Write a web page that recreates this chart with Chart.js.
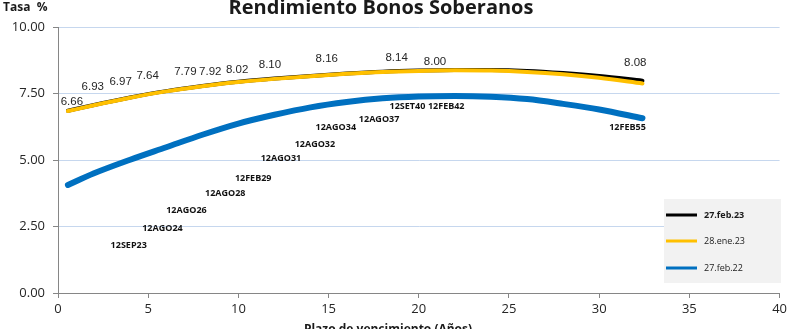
<!DOCTYPE html>
<html>
<head>
<meta charset="utf-8">
<script src="https://cdn.jsdelivr.net/npm/chart.js@4.4.1/dist/chart.umd.min.js"></script>
<style>
  html, body { margin: 0; padding: 0; background: #fff; }
  #wrap { width: 790px; height: 329px; }
</style>
</head>
<body>
<div id="wrap"><canvas id="curva"></canvas></div>
<script>
// -----------------------------
// DATA
// -----------------------------
const plazos = [0.55, 2, 4, 6, 8, 10, 12, 14, 16, 18, 20, 22, 24, 26, 28, 30, 32.4];
const tasaFeb23 = [6.85, 7.07, 7.35, 7.59, 7.78, 7.94, 8.06, 8.16, 8.25, 8.32, 8.36, 8.38, 8.38, 8.35, 8.27, 8.16, 7.98];
const tasaEne23 = [6.84, 7.06, 7.34, 7.58, 7.77, 7.93, 8.05, 8.15, 8.24, 8.31, 8.35, 8.37, 8.36, 8.31, 8.22, 8.09, 7.88];
const tasaFeb22 = [4.06, 4.50, 5.01, 5.48, 5.95, 6.37, 6.70, 6.98, 7.18, 7.32, 7.39, 7.41, 7.38, 7.29, 7.11, 6.90, 6.57];

const seriesNames = ['27.feb.23', '28.ene.23', '27.feb.22'];

// yield labels shown above the curves
const tasaLabels = ['6.66', '6.93', '6.97', '7.64', '7.79', '7.92', '8.02', '8.10', '8.16', '8.14', '8.00', '8.08'];
const tasaLabelX = [0.77, 1.93, 3.47, 4.97, 7.06, 8.44, 9.93, 11.75, 14.9, 18.77, 20.9, 32.0];
const tasaLabelY = [7.18, 7.74, 7.93, 8.16, 8.31, 8.31, 8.38, 8.57, 8.80, 8.84, 8.68, 8.65];

// bond names
const bonos = ['12SEP23', '12AGO24', '12AGO26', '12AGO28', '12FEB29', '12AGO31', '12AGO32', '12AGO34', '12AGO37', '12SET40', '12FEB42', '12FEB55'];
const bonoX = [3.92, 5.79, 7.12, 9.27, 10.82, 12.36, 14.24, 15.4, 17.8, 19.37, 21.52, 31.57];
const bonoY = [1.77, 2.44, 3.12, 3.76, 4.32, 5.04, 5.60, 6.24, 6.54, 7.03, 7.03, 6.24];

const xTicks = [0, 5, 10, 15, 20, 25, 30, 35, 40];
const yTicks = [0, 2.5, 5, 7.5, 10];

// -----------------------------
// HELPERS
// -----------------------------
const FONT = '"Open Sans", "Liberation Sans", sans-serif';
const NUM_FONT = '"Liberation Sans", sans-serif';

function toPoints(ys) {
  return plazos.map((x, i) => ({ x, y: ys[i] }));
}

// -----------------------------
// TEXT + LEGEND PLUGIN
// -----------------------------
const extras = {
  id: 'extras',
  afterDatasetsDraw(chart) {
    const { ctx, scales } = chart;
    const xs = scales.x, ys = scales.y;
    ctx.save();

    // yield labels
    ctx.fillStyle = '#262626';
    ctx.font = '11.5px ' + NUM_FONT;
    ctx.textAlign = 'center';
    ctx.textBaseline = 'middle';
    tasaLabels.forEach((t, i) => {
      ctx.fillText(t, xs.getPixelForValue(tasaLabelX[i]), ys.getPixelForValue(tasaLabelY[i]));
    });

    // bond labels
    ctx.fillStyle = '#111';
    ctx.font = 'bold 9px ' + FONT;
    bonos.forEach((t, i) => {
      ctx.fillText(t, xs.getPixelForValue(bonoX[i]), ys.getPixelForValue(bonoY[i]));
    });

    // title + axis titles
    ctx.fillStyle = '#1a1a1a';
    ctx.font = 'bold 20px ' + FONT;
    ctx.textBaseline = 'alphabetic';
    ctx.fillText('Rendimiento Bonos Soberanos', 381, 14);

    ctx.font = 'bold 12px ' + FONT;
    ctx.textAlign = 'left';
    ctx.fillText('Tasa  %', 3, 11);

    ctx.textAlign = 'center';
    ctx.fillText('Plazo de vencimiento (Años)', 388, 333);

    // legend box
    const lx = 664, ly = 199, lw = 117, lh = 84;
    ctx.fillStyle = '#f2f2f2';
    ctx.fillRect(lx, ly, lw, lh);
    const rows = [215, 241, 268];
    chart.data.datasets.forEach((ds, i) => {
      ctx.strokeStyle = ds.borderColor;
      ctx.lineWidth = 3;
      ctx.beginPath();
      ctx.moveTo(666, rows[i]);
      ctx.lineTo(697, rows[i]);
      ctx.stroke();
      ctx.fillStyle = '#1a1a1a';
      ctx.font = (i === 0 ? 'bold ' : '') + '9px ' + FONT;
      ctx.textAlign = 'left';
      ctx.textBaseline = 'middle';
      ctx.fillText(ds.label, 704, rows[i]);
    });

    ctx.restore();
  }
};

// -----------------------------
// CHART
// -----------------------------
const ctx = document.getElementById('curva').getContext('2d');

new Chart(ctx, {
  type: 'scatter',
  data: {
    datasets: [
      { label: seriesNames[0], data: toPoints(tasaFeb23), borderColor: '#000000', borderWidth: 4, order: 2 },
      { label: seriesNames[1], data: toPoints(tasaEne23), borderColor: '#ffc000', borderWidth: 4, order: 1 },
      { label: seriesNames[2], data: toPoints(tasaFeb22), borderColor: '#0070c0', borderWidth: 6, order: 0 }
    ].map(d => Object.assign(d, {
      showLine: true,
      pointRadius: 0,
      cubicInterpolationMode: 'monotone',
      borderCapStyle: 'round',
      borderJoinStyle: 'round'
    }))
  },
  options: {
    responsive: true,
    maintainAspectRatio: false,
    animation: false,
    layout: { padding: { top: 27, right: 8, left: 0, bottom: 0 } },
    plugins: {
      legend: { display: false },
      tooltip: { enabled: false },
      title: { display: false }
    },
    scales: {
      x: {
        type: 'linear',
        min: 0,
        max: 40,
        afterBuildTicks: s => { s.ticks = xTicks.map(v => ({ value: v })); },
        afterFit: s => { s.height = 36; },
        ticks: { color: '#262626', font: { family: FONT, size: 13 }, padding: 3, maxRotation: 0 },
        grid: { drawOnChartArea: false, drawTicks: true, tickLength: 5, tickColor: '#868686' },
        border: { color: '#868686', width: 1 }
      },
      y: {
        min: 0,
        max: 10,
        afterBuildTicks: s => { s.ticks = yTicks.map(v => ({ value: v })); },
        afterFit: s => { s.width = 58; },
        ticks: {
          color: '#262626',
          font: { family: FONT, size: 13 },
          padding: 8,
          callback: v => Number(v).toFixed(2)
        },
        grid: { color: '#c6d7ee', tickLength: 5, tickColor: '#868686' },
        border: { color: '#868686', width: 1 }
      }
    }
  },
  plugins: [extras]
});
</script>
</body>
</html>
